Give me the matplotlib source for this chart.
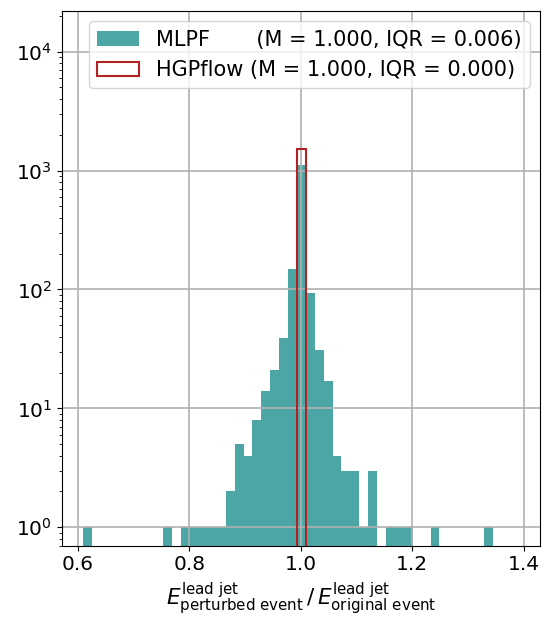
import numpy as np
import matplotlib
matplotlib.use("Agg")
import matplotlib.pyplot as plt

# ---------- histogram data ----------
BIN_LO, BIN_HI, N_BINS = 0.6098, 1.3444, 46
edges = np.linspace(BIN_LO, BIN_HI, N_BINS + 1)

# MLPF counts per bin
mlpf_counts = [
    1, 0, 0, 0, 0, 0, 0, 0, 0, 1,
    0, 1, 1, 1, 1, 1, 2, 5, 4, 8,
    14, 21, 39, 148, 1115, 94, 31, 17, 4, 3,
    3, 1, 3, 0, 1, 1, 1, 0, 0, 1,
    0, 0, 0, 0, 0, 1,
]
# HGPflow: everything in the bin around 1.0
hgp_counts = [0] * N_BINS
hgp_counts[24] = 1524

mlpf_label = "MLPF       (M = 1.000, IQR = 0.006)"
hgp_label = "HGPflow (M = 1.000, IQR = 0.000)"
# ---------------------------------------------------------------

centers = 0.5 * (edges[:-1] + edges[1:])

plt.rcParams["font.size"] = 14.5

fig = plt.figure(figsize=(5.42, 6.24), dpi=100)
ax = fig.add_axes([0.1138, 0.1255, 0.8825, 0.857])

ax.hist(centers, bins=edges, weights=mlpf_counts, color="teal", alpha=0.7,
        label=mlpf_label)
ax.hist(centers, bins=edges, weights=hgp_counts, histtype="step",
        color="firebrick", linewidth=1.5, label=hgp_label)

ax.set_yscale("log")
ax.set_xlim(0.571, 1.429)
ax.set_ylim(0.7, 2.2e4)
ax.set_xticks([0.6, 0.8, 1.0, 1.2, 1.4])
ax.grid(True, color="#b0b0b0", linewidth=1.2)

ax.set_xlabel(r"$E^{\mathrm{lead\ jet}}_{\mathrm{perturbed\ event}}\,/\,"
              r"E^{\mathrm{lead\ jet}}_{\mathrm{original\ event}}$", fontsize=15.5)

ax.legend(loc="upper right", fontsize=15)

fig.savefig("out.png", dpi=100)
